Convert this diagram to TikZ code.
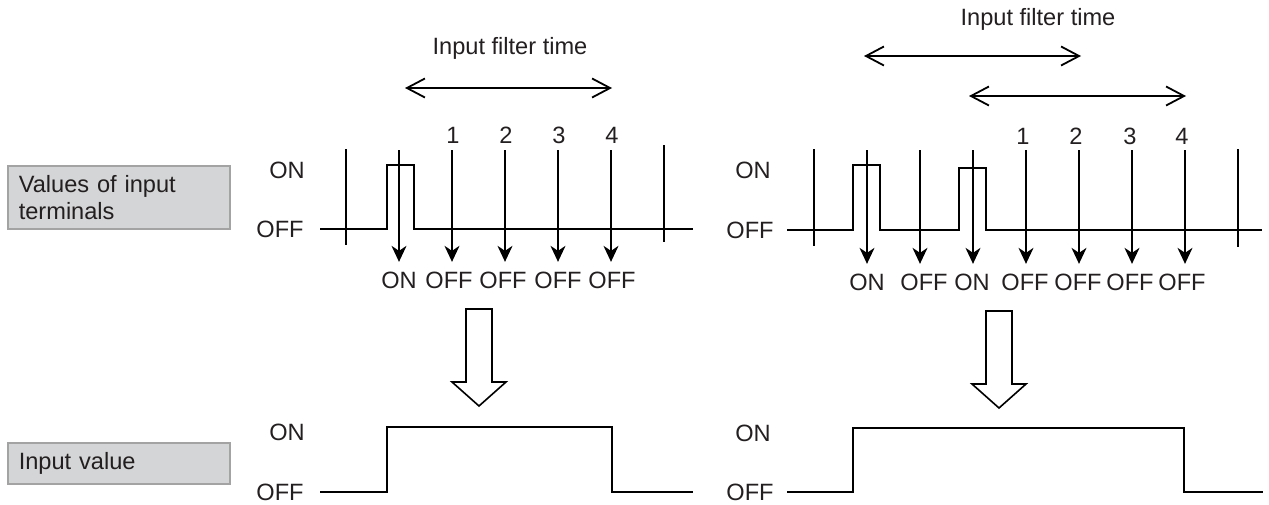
\documentclass[tikz,border=0pt]{standalone}
\usepackage{fontspec}
\setmainfont{Liberation Sans}
\usetikzlibrary{arrows.meta,positioning}
\definecolor{boxgray}{HTML}{D4D5D6}
\definecolor{boxline}{HTML}{A3A3A3}
\definecolor{txt}{HTML}{231F20}

\begin{document}
\begin{tikzpicture}[
  x=0.5pt, y=-0.5pt,
  every node/.style={font=\fontsize{11.8}{13.5}\selectfont, text=txt, inner sep=0pt},
  tag/.style={draw=boxline, fill=boxgray, line width=0.8pt, anchor=north west, align=left, text width=100pt, inner xsep=5.5pt, minimum width=111pt},
  signal/.style={line width=1.35pt},
  gridline/.style={line width=0.65pt},
  sample/.style={-{Stealth[length=8pt,width=7.5pt,inset=2.5pt]}, line width=0.65pt, shorten >=4.7pt},
  span/.style={{Straight Barb[length=9pt,width=9.5pt]}-{Straight Barb[length=9pt,width=9.5pt]}, line width=0.9pt},
  hollow/.style={draw, line width=0.8pt, fill=white}
]
\useasboundingbox (0,0) rectangle (1269,504);

% row labels
\node[tag, minimum height=31.5pt] (terminals) at (7,165) {Values of input\\terminals};
\node[tag, minimum height=20.5pt] (inputval) at (7,442) {Input value};

% level labels
\node (lon) at (287,170) {ON};
\node (loff) at (280,229) {OFF};
\node (ron) at (753,170) {ON};
\node (roff) at (750,230) {OFF};
\node (lbon) at (287,432) {ON};
\node (lboff) at (280,492) {OFF};
\node (rbon) at (753,433) {ON};
\node (rboff) at (750,492) {OFF};

% left: input filter time
\node (lfilter) at (510,48) {Input filter time};
\coordinate (lfa) at (405,88);
\coordinate (lfb) at (612,88);
\draw[span] (lfa) -- (lfb);

% right: input filter time
\node (rfilter) at (1038,19) {Input filter time};
\coordinate (rfa) at (864,56);
\coordinate (rfb) at (1081,56);
\coordinate (rfc) at (969,96);
\coordinate (rfd) at (1186,96);
\draw[span] (rfa) -- (rfb);
\draw[span] (rfc) -- (rfd);

% sampling grid
\draw[gridline] (346,149) -- (346,245);
\draw[gridline] (664,145) -- (664,242);
\draw[gridline] (814,149) -- (814,246);
\draw[gridline] (1238,149) -- (1238,247);

% terminal signals
\draw[signal] (320,229) -| (387,165) -| (414,229) -- (693,229);
\draw[signal] (787,230) -| (853,165) -| (880,230) -| (959,168) -| (986,230) -- (1262,230);

% left samples
\foreach \x/\lx/\v [count=\i] in {399/399/ON,452/449/OFF,505/503/OFF,558/558/OFF,611/612/OFF} {
  \coordinate (lt\i) at (\x,150);
  \node (ls\i) at (\lx,280) {\v};
  \draw[sample] (lt\i) -- (lt\i |- ls\i.north);
}
\foreach \x/\n in {453/1,506/2,559/3,612/4}
  \node (ln\n) at (\x,135) {\n};

% right samples
\foreach \x/\lx/\v [count=\i] in {867/867/ON,920/924/OFF,973/972/ON,1026/1025/OFF,1079/1078/OFF,1132/1130/OFF,1185/1182/OFF} {
  \coordinate (rt\i) at (\x,150);
  \node (rs\i) at (\lx,282) {\v};
  \draw[sample] (rt\i) -- (rt\i |- rs\i.north);
}
\foreach \x/\n in {1023/1,1076/2,1130/3,1182/4}
  \node (rn\n) at (\x,136) {\n};

% big hollow arrows
\foreach \c/\t in {479/309,999/311}
  \draw[hollow] (\c-13,\t) -- (\c+13,\t) -- (\c+13,\t+73) -- (\c+27,\t+73)
    -- (\c,\t+97) -- (\c-27,\t+73) -- (\c-13,\t+73) -- cycle;

% input value signals
\draw[signal] (320,492) -| (387,427) -| (612,492) -- (693,492);
\draw[signal] (787,492) -| (853,428) -| (1184,492) -- (1263,492);
\end{tikzpicture}
\end{document}
